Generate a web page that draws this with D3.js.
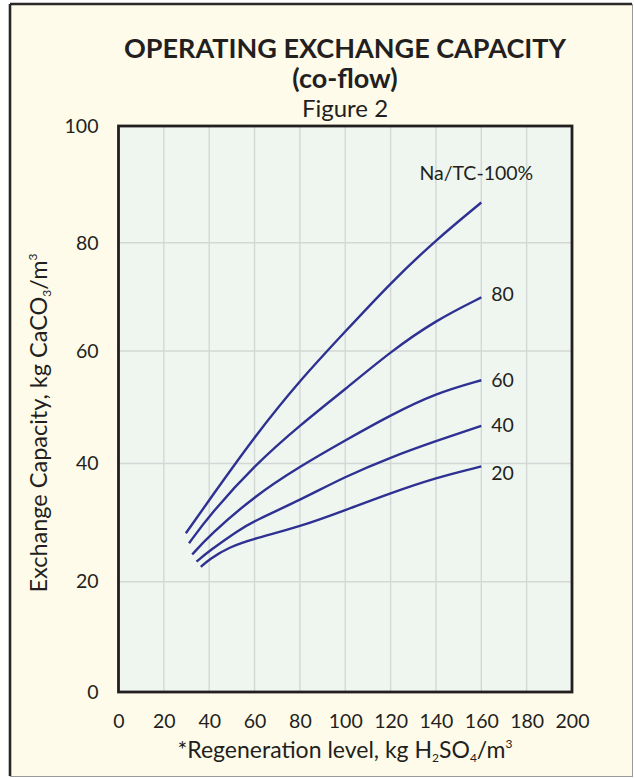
<!DOCTYPE html>
<html>
<head>
<meta charset="utf-8">
<script src="https://cdn.jsdelivr.net/npm/d3@7"></script>
<style>
  html, body { margin: 0; padding: 0; background: #ffffff; }
  svg { display: block; }
  text { font-family: Lato, "Noto Sans", sans-serif; fill: #231f20; }
</style>
</head>
<body>
<svg id="chart" width="634" height="778"></svg>
<script>
// Regeneration level (kg H2SO4/m3) on x, exchange capacity (kg CaCO3/m3) on y
const xTicks = [0, 20, 40, 60, 80, 100, 120, 140, 160, 180, 200];
const yTicks = [0, 20, 40, 60, 80, 100];

const seriesLabels = ["Na/TC-100%", "80", "60", "40", "20"];

const regen100 = [29.7, 40, 60, 80, 100, 120, 140, 160];
const cap100   = [28.2, 33.8, 44.8, 54.8, 63.6, 72.6, 80.5, 86.9];

const regen80 = [31.1, 40, 60, 80, 100, 120, 140, 160];
const cap80   = [26.5, 31.2, 39.7, 46.8, 53.2, 59.9, 65.7, 69.9];

const regen60 = [32.5, 40, 60, 80, 100, 120, 140, 160];
const cap60   = [24.6, 27.8, 34.5, 39.5, 44.1, 48.6, 52.5, 54.8];

const regen40 = [34.4, 40, 52.8, 60, 80, 100, 120, 140, 160];
const cap40   = [23.4, 25.2, 28.7, 30.3, 33.8, 37.8, 41.1, 44.0, 46.7];

const regen20 = [36.3, 40, 49, 60, 80, 100, 120, 140, 160];
const cap20   = [22.5, 23.8, 25.9, 27.3, 29.3, 32.1, 35.0, 37.6, 39.5];

const seriesX = [regen100, regen80, regen60, regen40, regen20];
const seriesY = [cap100, cap80, cap60, cap40, cap20];

const svg = d3.select("#chart");

// page background and frame
svg.append("rect").attr("x", 10).attr("y", 4).attr("width", 622).attr("height", 772)
  .attr("fill", "#fefbea");
svg.append("line").attr("x1", 10).attr("y1", 4).attr("x2", 632).attr("y2", 4)
  .attr("stroke", "#2a2727").attr("stroke-width", 2.6);
svg.append("line").attr("x1", 10).attr("y1", 4).attr("x2", 10).attr("y2", 776)
  .attr("stroke", "#2a2727").attr("stroke-width", 2.6);
svg.append("line").attr("x1", 632.5).attr("y1", 4).attr("x2", 632.5).attr("y2", 776)
  .attr("stroke", "#9a9a9a").attr("stroke-width", 1);
svg.append("line").attr("x1", 10).attr("y1", 776.5).attr("x2", 633).attr("y2", 776.5)
  .attr("stroke", "#9a9a9a").attr("stroke-width", 1);

const plotLeft = 118.5, plotRight = 572, plotTop = 126, plotBottom = 692;

const x = d3.scaleLinear().domain([0, 200]).range([plotLeft, plotRight]);
const y = d3.scaleLinear().domain(yTicks).range([692, 581.7, 463.5, 351, 242.8, 126]);

// plot area
svg.append("rect").attr("x", plotLeft).attr("y", plotTop)
  .attr("width", plotRight - plotLeft).attr("height", plotBottom - plotTop)
  .attr("fill", "#eff6f0");

// grid
const grid = svg.append("g").attr("stroke", "#d3d7d6").attr("stroke-width", 1.4);
grid.selectAll("line.v").data(xTicks.slice(1, -1)).join("line").attr("class", "v")
  .attr("x1", d => x(d)).attr("x2", d => x(d)).attr("y1", plotTop).attr("y2", plotBottom);
grid.selectAll("line.h").data(yTicks.slice(1, -1)).join("line").attr("class", "h")
  .attr("x1", plotLeft).attr("x2", plotRight).attr("y1", d => y(d)).attr("y2", d => y(d));

// curves
const line = d3.line().x(d => x(d[0])).y(d => y(d[1])).curve(d3.curveBasis);
seriesX.forEach((xs, i) => {
  const pts = xs.map((v, j) => [v, seriesY[i][j]]);
  svg.append("path").datum(pts).attr("d", line)
    .attr("fill", "none").attr("stroke", "#2e3192").attr("stroke-width", 2.4)
    .attr("stroke-linejoin", "round");
});

// frame of the plot
svg.append("rect").attr("x", plotLeft).attr("y", plotTop)
  .attr("width", plotRight - plotLeft).attr("height", plotBottom - plotTop)
  .attr("fill", "none").attr("stroke", "#231f20").attr("stroke-width", 2.8);

// axes (labels only)
const xAxis = svg.append("g").attr("transform", `translate(0,${plotBottom})`)
  .call(d3.axisBottom(x).tickValues(xTicks).tickSize(0).tickPadding(22));
const yAxis = svg.append("g").attr("transform", `translate(${plotLeft},0)`)
  .call(d3.axisLeft(y).tickValues(yTicks).tickSize(0).tickPadding(20));
[xAxis, yAxis].forEach(a => {
  a.select(".domain").remove();
  a.selectAll("text").attr("font-size", 19.5).attr("font-family", "Lato, 'Noto Sans', sans-serif")
    .attr("fill", "#231f20");
});

// series labels at the curve ends
const labelNudge = [[-5, -23], [10, 4], [10, 7], [10, 6], [10, 14]];
seriesLabels.forEach((t, i) => {
  const xs = seriesX[i], ys = seriesY[i];
  const ex = x(xs[xs.length - 1]), ey = y(ys[ys.length - 1]);
  svg.append("text")
    .attr("x", ex + labelNudge[i][0]).attr("y", ey + labelNudge[i][1])
    .attr("text-anchor", i === 0 ? "middle" : "start")
    .attr("font-size", 19.5).text(t);
});

// titles
svg.append("text").attr("x", 345).attr("y", 57.5).attr("text-anchor", "middle")
  .attr("font-size", 27).attr("font-weight", 700).text("OPERATING EXCHANGE CAPACITY");
svg.append("text").attr("x", 345).attr("y", 87.5).attr("text-anchor", "middle")
  .attr("font-size", 27).attr("font-weight", 700).text("(co-flow)");
svg.append("text").attr("x", 345).attr("y", 117).attr("text-anchor", "middle")
  .attr("font-size", 24).text("Figure 2");

// x axis title with sub/superscripts
const xt = svg.append("text").attr("x", 345).attr("y", 758).attr("text-anchor", "middle")
  .attr("font-size", 23);
xt.append("tspan").text("*Regeneration level, kg H");
xt.append("tspan").attr("font-size", 12).attr("dy", 4).text("2");
xt.append("tspan").attr("dy", -4).text("SO");
xt.append("tspan").attr("font-size", 12).attr("dy", 4).text("4");
xt.append("tspan").attr("dy", -4).text("/m");
xt.append("tspan").attr("font-size", 12).attr("dy", -10).text("3");

// y axis title
const yt = svg.append("text").attr("transform", "translate(47,423) rotate(-90)")
  .attr("text-anchor", "middle").attr("font-size", 23.5);
yt.append("tspan").text("Exchange Capacity, kg CaCO");
yt.append("tspan").attr("font-size", 12).attr("dy", 4).text("3");
yt.append("tspan").attr("dy", -4).text("/m");
yt.append("tspan").attr("font-size", 12).attr("dy", -10).text("3");
</script>
</body>
</html>
